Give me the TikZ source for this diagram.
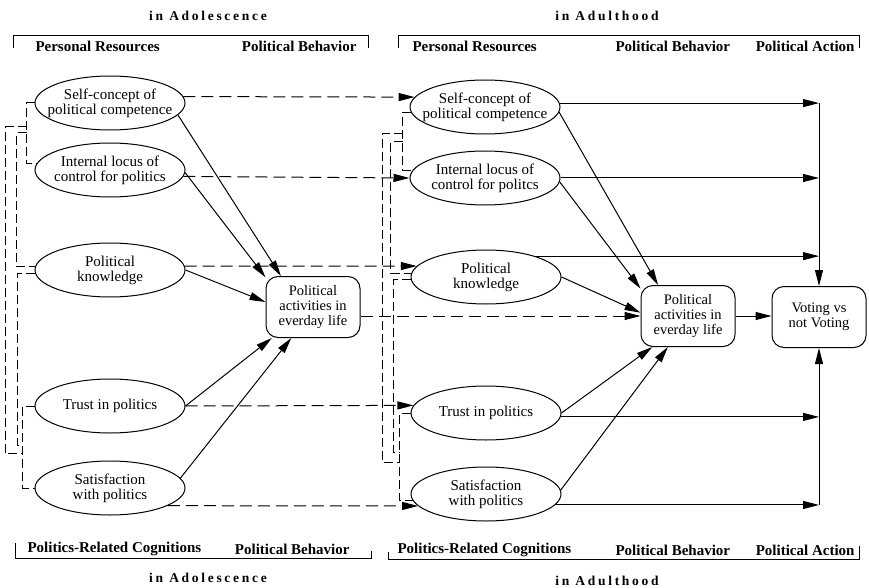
\documentclass[tikz,border=0pt]{standalone}
\usepackage{fontspec}
\setmainfont{Liberation Serif}
\newfontfamily\spacedfont[LetterSpace=20]{Liberation Serif}
\usetikzlibrary{arrows.meta,calc,shapes.geometric}

\begin{document}
\begin{tikzpicture}[x=1pt,y=-1pt,line width=1pt,
  >={Triangle[length=16pt,width=8pt]},
  oval/.style={draw,ellipse,minimum width=150pt,minimum height=54pt,inner xsep=-14pt,inner ysep=0pt,align=center,font=\fontsize{15}{15}\selectfont},
  stage/.style={draw,rounded corners=12pt,minimum width=94pt,minimum height=61pt,inner sep=2pt,align=center,font=\fontsize{14.5}{15}\selectfont},
  head/.style={inner sep=0pt,font=\fontsize{15}{15}\selectfont\bfseries},
  period/.style={inner sep=0pt,font=\fontsize{13.5}{14}\selectfont\spacedfont\bfseries},
  lag/.style={->,dash pattern=on 12pt off 6pt},
  corr/.style={dash pattern=on 9pt off 4pt}]
  \useasboundingbox (0,0) rectangle (869,588);

  % headers
  \node[period] (adoT) at (208,16) {in Adolescence};
  \node[period] (aduT) at (607,16) {in Adulthood};
  \node[head,anchor=west] (prA) at (35,46) {Personal Resources};
  \node[head,anchor=east] (pbA) at (357,46) {Political Behavior};
  \node[head,anchor=west] (prB) at (412,46) {Personal Resources};
  \node[head,anchor=west] (pbB) at (615,46) {Political Behavior};
  \node[head,anchor=east] (paB) at (855,46) {Political Action};
  \draw[line width=0.8pt] (13,48) |- (368,35) -- (368,48);
  \draw[line width=0.8pt] (398,48) |- (859,35) -- (859,48);

  \node[head,anchor=west] (pcA) at (27,549) {Politics-Related Cognitions};
  \node[head,anchor=east] (pbA2) at (350,549) {Political Behavior};
  \node[head,anchor=west] (pcB) at (397,550) {Politics-Related Cognitions};
  \node[head,anchor=west] (pbB2) at (615,550) {Political Behavior};
  \node[head,anchor=east] (paB2) at (855,550) {Political Action};
  \draw[line width=0.8pt] (15,543) |- (371,558) -- (371,551);
  \draw[line width=0.8pt] (388,552) |- (859,559) -- (859,546);
  \node[period] (adoB) at (208,578) {in Adolescence};
  \node[period] (aduB) at (607,581) {in Adulthood};

  % adolescence
  \node[oval] (sA) at (110,103) {Self-concept of\\political competence};
  \node[oval] (iA) at (110,170) {Internal locus of\\control for politics};
  \node[oval] (kA) at (110,270) {Political\\knowledge};
  \node[oval] (tA) at (110,406) {Trust in politics};
  \node[oval] (fA) at (110,488) {Satisfaction\\with politics};
  \node[stage] (aA) at (313,307) {Political\\activities in\\everday life};

  % adulthood
  \node[oval] (sB) at (485,107) {Self-concept of\\political competence};
  \node[oval] (iB) at (485,178) {Internal locus of\\control for politcs};
  \node[oval] (kB) at (486,277) {Political\\knowledge};
  \node[oval] (tB) at (486,413) {Trust in politics};
  \node[oval] (fB) at (486,494) {Satisfaction\\with politics};
  \node[stage] (aB) at (688,316) {Political\\activities in\\everday life};
  \node[stage] (vote) at (819,317) {Voting vs\\not Voting};

  % stability over time
  \draw[lag] (sA.5) -- (sB.172);
  \draw[lag] (iA.-5.5) -- (iB.west);
  \draw[lag] (kA.3) -- (kB.171);
  \draw[lag] (aA.east |- aB.west) -- (aB.west);
  \draw[lag] (tA.east) -- (tB.174.5);
  \draw[lag] (fA.-17.6) -- (fB.190);

  % effects in adolescence
  \draw[->] (sA.-10) -- (aA.136);
  \draw[->] (iA.-2) -- (aA.148);
  \draw[->] (kA.east) -- (aA.174);
  \draw[->] (tA.east) -- (aA.-143);
  \draw[->] (fA.8) -- (aA.-125);

  % effects in adulthood
  \draw[->] (sB.-4) -- (aB.134);
  \draw[->] (iB.-3) -- (aB.150);
  \draw[->] (kB.east) -- (aB.176);
  \draw[->] (tB.east) -- (aB.-139);
  \draw[->] (fB.3.5) -- (aB.-123);
  \draw[->] (aB.east) -- (aB.east -| vote.west);
  \draw[->] (sB.3) -- (sB.3 -| vote.north);
  \draw[->] (iB.east) -- (iB.east -| vote.north);
  \draw[->] (kB.23.5) -- (kB.23.5 -| vote.north);
  \draw[->] (tB.-3.5) -- (tB.-3.5 -| vote.north);
  \draw[->] (fB.-9) -- (fB.-9 -| vote.south);
  \draw[->] (sB.3 -| vote.north) -- (vote.north);
  \draw[->] (fB.-9 -| vote.south) -- (vote.south);

  % correlations in adolescence
  \draw[corr] (sA.west) -- ++(-8,0) coordinate (cA1) |- (iA.175);
  \coordinate (cA2) at (cA1 |- iA.175);
  \draw[corr] (tA.west) -- ++(-12,0) coordinate (cA3) |- (fA.west);
  \coordinate (cA4) at (cA3 |- fA.west);
  \draw[corr] ($(cA1)!0.39!(cA2)$) -- ++(-21,0) |- ($(cA3)!0.585!(cA4)$);
  \draw[corr] ($(cA1)!0.49!(cA2)$) -- ++(-10,0) |- (kA.177);
  \draw[corr] (kA.183) -- ++(-18,0) |- ($(cA3)!0.476!(cA4)$);

  % correlations in adulthood
  \draw[corr] (sB.184) -- ++(-8,0) coordinate (cB1) |- (iB.174);
  \coordinate (cB2) at (cB1 |- iB.174);
  \draw[corr] (tB.west) -- ++(-11,0) coordinate (cB3) |- (fB.185);
  \coordinate (cB4) at (cB3 |- fB.185);
  \draw[corr] ($(cB1)!0.36!(cB2)$) -- ++(-20,0) |- ($(cB3)!0.57!(cB4)$);
  \draw[corr] ($(cB1)!0.51!(cB2)$) -- ++(-12,0) |- (kB.177);
  \draw[corr] (kB.182) -- ++(-17,0) |- ($(cB3)!0.457!(cB4)$);
\end{tikzpicture}
\end{document}
